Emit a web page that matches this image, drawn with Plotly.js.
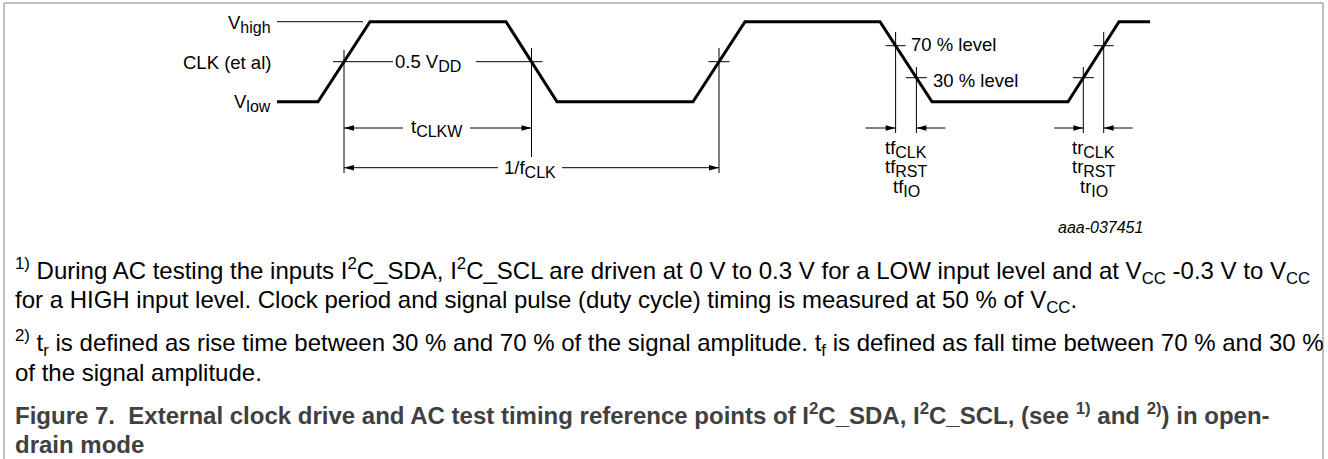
<!DOCTYPE html>
<html>
<head>
<meta charset="utf-8">
<script src="https://cdn.plot.ly/plotly-3.0.1.min.js"></script>
<style>
  html, body { margin: 0; padding: 0; background: #fff; }
  #chart { width: 1328px; height: 459px; }
</style>
</head>
<body>
<div id="chart"></div>
<script>
// ---- data: waveform (time in arbitrary units, level as fraction of swing) ----
const T = [277, 318, 370, 506, 557, 693, 745, 880, 932, 1068, 1119, 1150];
const LEVEL = [0, 0, 1, 1, 0, 0, 1, 1, 0, 0, 1, 1];
const MID_LEVEL = 0.5;
const HIGH_REF = 0.7;
const LOW_REF = 0.3;

// ---- text ----
const SUB = s => '<sub><span style="font-size:16px">' + s + '</span></sub>';
const LEVEL_LABELS = ['V' + SUB('high'), 'CLK (et al)', 'V' + SUB('low')];
const MID_LABEL = '0.5 V' + SUB('DD');
const WIDTH_LABEL = 't' + SUB('CLKW');
const PERIOD_LABEL = '1/f' + SUB('CLK');
const REF_LABELS = ['70 % level', '30 % level'];
const FALL_LABELS = ['tf' + SUB('CLK'), 'tf' + SUB('RST'), 'tf' + SUB('IO')];
const RISE_LABELS = ['tr' + SUB('CLK'), 'tr' + SUB('RST'), 'tr' + SUB('IO')];
const FIG_ID = 'aaa-037451';
const NOTES = [
  '<sup>1)</sup> During AC testing the inputs I<sup>2</sup>C_SDA, I<sup>2</sup>C_SCL are driven at 0 V to 0.3 V for a LOW input level and at V<sub>CC</sub> -0.3 V to V<sub>CC</sub>',
  'for a HIGH input level. Clock period and signal pulse (duty cycle) timing is measured at 50 % of V<sub>CC</sub>.',
  '<sup>2)</sup> t<sub>r</sub> is defined as rise time between 30 % and 70 % of the signal amplitude. t<sub>f</sub> is defined as fall time between 70 % and 30 %',
  'of the signal amplitude.'
];
const CAPTION = [
  'Figure 7.&nbsp; External clock drive and AC test timing reference points of I<sup>2</sup>C_SDA, I<sup>2</sup>C_SCL, (see <sup>1)</sup> and <sup>2)</sup>) in open-',
  'drain mode'
];

// ---- geometry helpers ----
const W = 1328, H = 459;
const VLOW_PX = 101.7, VHIGH_PX = 21.7;
const lv = p => (VLOW_PX - p) / (VLOW_PX - VHIGH_PX);   // pixel row -> level units
const px = x => x / W, py = y => 1 - y / H;              // paper coords

function crossing(seg, lvl) {
  const t0 = T[seg], t1 = T[seg + 1], l0 = LEVEL[seg], l1 = LEVEL[seg + 1];
  return t0 + (lvl - l0) / (l1 - l0) * (t1 - t0);
}
const c1 = crossing(1, MID_LEVEL);
const c2 = crossing(3, MID_LEVEL);
const c3 = crossing(5, MID_LEVEL);
const f70 = crossing(7, HIGH_REF), f30 = crossing(7, LOW_REF);
const r30 = crossing(9, LOW_REF), r70 = crossing(9, HIGH_REF);

const INK = '#000';
const shapes = [];
function hline(x0, x1, y, w = 1, color = INK) {
  shapes.push({type: 'line', xref: 'x', yref: 'y', x0, x1, y0: y, y1: y, line: {color, width: w}});
}
function vline(x, y0, y1, w = 1) {
  shapes.push({type: 'line', xref: 'x', yref: 'y', x0: x, x1: x, y0, y1, line: {color: INK, width: w}});
}
function head(x, y, dir) { // dir -1: points left, +1: points right
  const L = 10, h = 2.7;
  shapes.push({type: 'path', xref: 'x', yref: 'y', xsizemode: 'pixel', ysizemode: 'pixel',
    xanchor: x, yanchor: y,
    path: `M0,0 L${-dir * L},${h} L${-dir * L},${-h} Z`,
    fillcolor: INK, line: {width: 0}});
}
function arrow(xTail, xTip, y) {
  hline(xTail, xTip, y);
  head(xTip, y, xTip < xTail ? -1 : 1);
}

// frame
const FRAME = '#a8a8a8';
shapes.push({type: 'line', xref: 'paper', yref: 'paper', x0: px(4), x1: px(4), y0: py(3), y1: py(459), line: {color: FRAME, width: 1.5}});
shapes.push({type: 'line', xref: 'paper', yref: 'paper', x0: px(4), x1: px(1323), y0: py(3), y1: py(3), line: {color: FRAME, width: 1.5}});
shapes.push({type: 'line', xref: 'paper', yref: 'paper', x0: px(1323), x1: px(1323), y0: py(3), y1: py(459), line: {color: FRAME, width: 1.5}});

// reference line for V high
hline(T[0], T[2] - 7, 1);
// 0.5 VDD
hline(c1 - 11, 393, MID_LEVEL);
hline(476, c2 + 11, MID_LEVEL);
hline(c3 - 10.5, c3 + 10.5, MID_LEVEL);
// verticals at 50 % points
vline(c1, lv(50), lv(173));
vline(c2, lv(48), lv(157));
vline(c3, lv(48), lv(173));
// tCLKW
arrow(403, c1, lv(128));
arrow(470, c2, lv(128));
// 1/fCLK
arrow(498, c1, lv(167.7));
arrow(562, c3, lv(167.7));
// falling edge 70/30
hline(f70 - 10, f70 + 10, HIGH_REF);
hline(f30 - 10.5, f30 + 10.5, LOW_REF);
vline(f70, lv(32), lv(133));
vline(f30, lv(67), lv(133));
arrow(f70 - 30, f70, lv(128));
arrow(f30 + 29, f30, lv(128));
// rising edge 30/70
hline(r30 - 10.5, r30 + 10.5, LOW_REF);
hline(r70 - 10, r70 + 10, HIGH_REF);
vline(r30, lv(67), lv(133));
vline(r70, lv(32), lv(133));
arrow(r30 - 29, r30, lv(128));
arrow(r70 + 29, r70, lv(128));

// ---- annotations, placed by text baseline ----
const FONT = 'Liberation Sans, Arial, Helvetica, sans-serif';
const ASC = 0.905, DESC = 0.212;
const ann = [];
function label(text, x, baseline, xanchor, fs, opt = {}) {
  const subFs = opt.subFs || 0.7 * fs;
  const hasSup = text.includes('<sup>'), hasSub = text.includes('<sub>');
  const top = baseline - ASC * fs - (hasSup ? 0.16 * fs : 0);
  const bottom = baseline + Math.max(DESC * fs, hasSub ? 0.21 * fs + DESC * subFs : 0);
  ann.push({text: opt.wrap ? opt.wrap(text) : text, x: px(x), y: py((top + bottom) / 2),
    xref: 'paper', yref: 'paper', xanchor, yanchor: 'middle',
    showarrow: false, borderpad: 0, borderwidth: 0,
    font: {family: FONT, size: fs, color: opt.color || '#000'}});
}
const LFS = 18.5, SFS = 16;
label(LEVEL_LABELS[0], 271, 29.2, 'right', LFS, {subFs: SFS});
label(LEVEL_LABELS[1], 271, 68.6, 'right', LFS);
label(LEVEL_LABELS[2], 271, 108.2, 'right', LFS, {subFs: SFS});
label(MID_LABEL, 395, 68.2, 'left', LFS, {subFs: SFS});
label(WIDTH_LABEL, (403 + 470) / 2, 132.5, 'center', LFS, {subFs: SFS});
label(PERIOD_LABEL, (498 + 562) / 2, 173.5, 'center', LFS, {subFs: SFS});
label(REF_LABELS[0], 911, 51.2, 'left', LFS);
label(REF_LABELS[1], 933, 86.5, 'left', LFS);
FALL_LABELS.forEach((t, i) => label(t, (f70 + f30) / 2, 154 + 19.2 * i, 'center', LFS, {subFs: SFS}));
RISE_LABELS.forEach((t, i) => label(t, (r30 + r70) / 2, 154 + 19.2 * i, 'center', LFS, {subFs: SFS}));
label(FIG_ID, 1100, 233, 'center', 16, {wrap: t => '<i>' + t + '</i>'});

const NOTE_BASE = [279, 308, 351.6, 380.4];
NOTES.forEach((t, i) => label(t, 15, NOTE_BASE[i], 'left', 24));
const CAP_BASE = [424, 453];
CAPTION.forEach((t, i) => label(t, 15, CAP_BASE[i], 'left', 24, {color: '#404040', wrap: s => '<b>' + s + '</b>'}));

const traces = [{
  type: 'scatter', mode: 'lines', x: T, y: LEVEL,
  line: {color: INK, width: 3}, hoverinfo: 'skip'
}];

const layout = {
  width: W, height: H,
  margin: {l: 0, r: 0, t: 0, b: 0, pad: 0},
  paper_bgcolor: '#fff', plot_bgcolor: '#fff',
  showlegend: false,
  xaxis: {range: [0, W], visible: false, fixedrange: true},
  yaxis: {range: [lv(H), lv(0)], visible: false, fixedrange: true},
  shapes, annotations: ann
};
Plotly.newPlot('chart', traces, layout, {staticPlot: true, displayModeBar: false});
</script>
</body>
</html>
